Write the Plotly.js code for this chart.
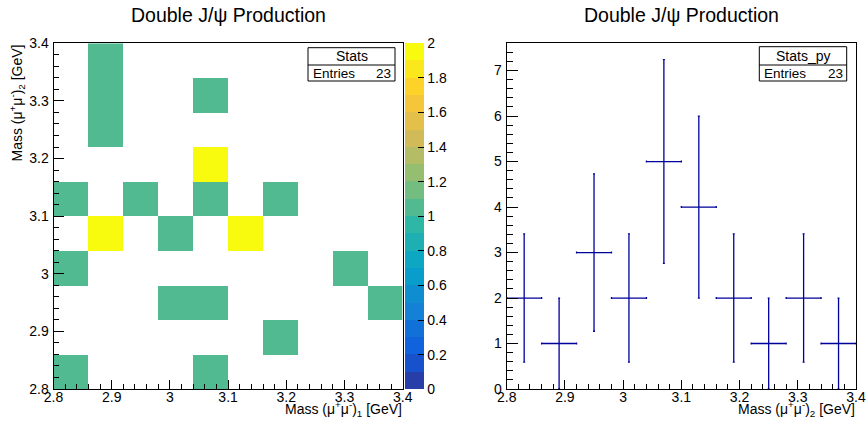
<!DOCTYPE html>
<html>
<head>
<meta charset="utf-8">
<script src="https://cdn.plot.ly/plotly-3.0.1.min.js"></script>
<style>
html,body{margin:0;padding:0;background:#fff;}
#chart{width:866px;height:426px;}
</style>
</head>
<body>
<div id="chart"></div>
<script>
// ---- data ----
const binCenters = [2.83, 2.89, 2.95, 3.01, 3.07, 3.13, 3.19, 3.25, 3.31, 3.37];
// filled cells of the 2D histogram (bin centre on x, bin centre on y, count)
const cellX     = [2.89, 2.89, 3.07, 2.89, 3.07, 2.83, 2.95, 3.07, 3.19, 2.89, 3.01, 3.13, 2.83, 3.31, 3.01, 3.07, 3.37, 3.19, 2.83, 3.07];
const cellY     = [3.37, 3.31, 3.31, 3.25, 3.19, 3.13, 3.13, 3.13, 3.13, 3.07, 3.07, 3.07, 3.01, 3.01, 2.95, 2.95, 2.95, 2.89, 2.83, 2.83];
const cellCount = [1,    1,    1,    1,    2,    1,    1,    1,    1,    2,    1,    2,    1,    1,    1,    1,    1,    1,    1,    1];
// projection on y
const pyCounts = [2, 1, 3, 2, 5, 4, 2, 1, 2, 1];
const pyErrors = [1.41, 1.0, 1.73, 1.41, 2.24, 2.0, 1.41, 1.0, 1.41, 1.0];
const pyHalfWidth = [0.03, 0.03, 0.03, 0.03, 0.03, 0.03, 0.03, 0.03, 0.03, 0.03];
const entriesXY = 23, entriesPy = 23;
const colorTicks = [0, 0.2, 0.4, 0.6, 0.8, 1, 1.2, 1.4, 1.6, 1.8, 2];
const titleText = "Double J/ψ Production";

// ---- build z matrix ----
const z = binCenters.map(() => binCenters.map(() => null));
for (let i = 0; i < cellX.length; i++) {
  const xi = binCenters.findIndex(v => Math.abs(v - cellX[i]) < 1e-6);
  const yi = binCenters.findIndex(v => Math.abs(v - cellY[i]) < 1e-6);
  z[yi][xi] = cellCount[i];
}

// ---- ROOT kBird palette, 20 discrete contour bands ----
const st = [0.0, 0.125, 0.25, 0.375, 0.5, 0.625, 0.75, 0.875, 1.0];
const rr = [0.2082, 0.0592, 0.0780, 0.0232, 0.1802, 0.5301, 0.8186, 0.9956, 0.9764];
const gg = [0.1664, 0.3599, 0.5041, 0.6419, 0.7178, 0.7492, 0.7328, 0.7862, 0.9832];
const bb = [0.5293, 0.8684, 0.8385, 0.7914, 0.6425, 0.4662, 0.3499, 0.1968, 0.0539];
function bird(t) {
  let k = 0;
  while (k < st.length - 2 && t > st[k + 1]) k++;
  const f = (t - st[k]) / (st[k + 1] - st[k]);
  const c = a => Math.round(255 * (a[k] + f * (a[k + 1] - a[k])));
  return `rgb(${c(rr)},${c(gg)},${c(bb)})`;
}
const nBands = 20;
const colorscale = [];
for (let k = 0; k < nBands; k++) {
  const idx = Math.floor((k + 0.99) * 255 / nBands);
  const col = bird(Math.min(idx, 254) / 254);
  const lo = k === 0 ? 0 : k / nBands - 1e-4;
  const hi = k === nBands - 1 ? 1 : (k + 1) / nBands - 1e-4;
  colorscale.push([lo, col], [hi, col]);
}

// ---- layout helpers (pixel -> paper) ----
const W = 866, H = 426;
const px = x => x / W;
const py = y => 1 - y / H;
const FONT = "Liberation Sans, Arial, Helvetica, sans-serif";
const fTop = 43.3, fBot = 389;
const L = {x0: 53.5, x1: 402.7};
const R = {x0: 506.7, x1: 856};

const axisCommon = {
  showgrid: false, zeroline: false,
  showline: true, linecolor: "#000", linewidth: 1, mirror: true,
  ticks: "inside", tickcolor: "#000", tickwidth: 1,
  tickfont: {family: FONT, size: 14, color: "#000"},
  fixedrange: true
};

const traces = [
  {
    type: "heatmap",
    x: binCenters, y: binCenters, z: z,
    zmin: 0, zmax: 2, zsmooth: false,
    colorscale: colorscale,
    hoverinfo: "skip",
    xaxis: "x", yaxis: "y",
    colorbar: {
      x: px(405), xanchor: "left", xpad: 0,
      y: py(fTop), yanchor: "top", ypad: 0,
      len: fBot - fTop, lenmode: "pixels",
      thickness: 19, thicknessmode: "pixels",
      outlinewidth: 0,
      tickvals: colorTicks,
      ticks: "inside", ticklen: 6, tickcolor: "#000",
      tickfont: {family: FONT, size: 14, color: "#000"}
    }
  },
  {
    type: "scatter", mode: "markers",
    x: binCenters, y: pyCounts,
    marker: {size: 1, color: "rgba(0,0,0,0)"},
    error_y: {type: "data", array: pyErrors, visible: true, color: "#00009c", thickness: 1.3, width: 1},
    error_x: {type: "data", array: pyHalfWidth, visible: true, color: "#00009c", thickness: 1.3, width: 1},
    hoverinfo: "skip",
    xaxis: "x2", yaxis: "y2", showlegend: false
  }
];

function statsBox(x0, x1, y0, y1, ymid, name, entries) {
  const shapes = [
    {type: "rect", xref: "paper", yref: "paper", x0: px(x0), x1: px(x1), y0: py(y1), y1: py(y0),
     line: {color: "#000", width: 1}, fillcolor: "#fff"},
    {type: "line", xref: "paper", yref: "paper", x0: px(x0), x1: px(x1), y0: py(ymid), y1: py(ymid),
     line: {color: "#000", width: 1}}
  ];
  const ann = [
    {xref: "paper", yref: "paper", x: px((x0 + x1) / 2), y: py((y0 + ymid) / 2), xanchor: "center", yanchor: "middle",
     text: name, showarrow: false, font: {family: FONT, size: 14, color: "#000"}},
    {xref: "paper", yref: "paper", x: px(x0 + 3), y: py((ymid + y1) / 2), xanchor: "left", yanchor: "middle",
     text: "Entries", showarrow: false, font: {family: FONT, size: 13.5, color: "#000"}},
    {xref: "paper", yref: "paper", x: px(x1 - 2), y: py((ymid + y1) / 2), xanchor: "right", yanchor: "middle",
     text: String(entries), showarrow: false, font: {family: FONT, size: 13.5, color: "#000"}}
  ];
  return {shapes, ann};
}
const sL = statsBox(308, 395, 47.7, 81, 65, "Stats", entriesXY);
const sR = statsBox(759.3, 846.7, 46.7, 81, 65, "Stats_py", entriesPy);

const annotations = [
  {xref: "paper", yref: "paper", x: px((L.x0 + L.x1) / 2), y: py(15), xanchor: "center", yanchor: "middle",
   text: titleText, showarrow: false, font: {family: FONT, size: 19.5, color: "#000"}},
  {xref: "paper", yref: "paper", x: px((R.x0 + R.x1) / 2), y: py(15), xanchor: "center", yanchor: "middle",
   text: titleText, showarrow: false, font: {family: FONT, size: 19.5, color: "#000"}},
  {xref: "paper", yref: "paper", x: px(404), y: py(397), xanchor: "right", yanchor: "top",
   text: "Mass (μ<sup>+</sup>μ<sup>-</sup>)<sub>1</sub> [GeV]", showarrow: false,
   font: {family: FONT, size: 14, color: "#000"}},
  {xref: "paper", yref: "paper", x: px(857), y: py(397), xanchor: "right", yanchor: "top",
   text: "Mass (μ<sup>+</sup>μ<sup>-</sup>)<sub>2</sub> [GeV]", showarrow: false,
   font: {family: FONT, size: 14, color: "#000"}},
  {xref: "paper", yref: "paper", x: px(17), y: py(43), xanchor: "center", yanchor: "top", textangle: -90,
   text: "Mass (μ<sup>+</sup>μ<sup>-</sup>)<sub>2</sub> [GeV]", showarrow: false,
   font: {family: FONT, size: 14, color: "#000"}}
].concat(sL.ann, sR.ann);

const layout = {
  width: W, height: H,
  margin: {l: 0, r: 0, t: 0, b: 0},
  paper_bgcolor: "#fff", plot_bgcolor: "#fff",
  showlegend: false,
  xaxis: Object.assign({}, axisCommon, {
    domain: [px(L.x0), px(L.x1)], anchor: "y", range: [2.8, 3.4],
    tick0: 2.8, dtick: 0.1, ticklen: 9, ticklabelstandoff: -5,
    minor: {dtick: 0.02, ticks: "inside", ticklen: 5, tickcolor: "#000", showgrid: false}
  }),
  yaxis: Object.assign({}, axisCommon, {
    domain: [py(fBot), py(fTop)], anchor: "x", range: [2.8, 3.4],
    tick0: 2.8, dtick: 0.1, ticklen: 10, ticklabelstandoff: 1,
    minor: {dtick: 0.02, ticks: "inside", ticklen: 5, tickcolor: "#000", showgrid: false}
  }),
  xaxis2: Object.assign({}, axisCommon, {
    domain: [px(R.x0), px(R.x1)], anchor: "y2", range: [2.8, 3.4],
    tick0: 2.8, dtick: 0.1, ticklen: 9, ticklabelstandoff: -5,
    minor: {dtick: 0.02, ticks: "inside", ticklen: 5, tickcolor: "#000", showgrid: false}
  }),
  yaxis2: Object.assign({}, axisCommon, {
    domain: [py(fBot), py(fTop)], anchor: "x2", range: [0, 7.6],
    tick0: 0, dtick: 1, ticklen: 11, ticklabelstandoff: 1,
    minor: {dtick: 0.2, ticks: "inside", ticklen: 6, tickcolor: "#000", showgrid: false}
  }),
  shapes: sL.shapes.concat(sR.shapes),
  annotations: annotations
};

Plotly.newPlot("chart", traces, layout, {displayModeBar: false, staticPlot: true});
</script>
</body>
</html>
